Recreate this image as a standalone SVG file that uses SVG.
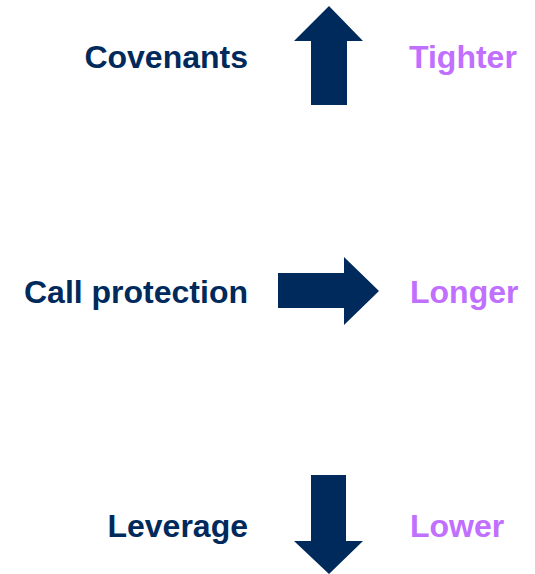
<svg xmlns="http://www.w3.org/2000/svg" width="535" height="574" viewBox="0 0 535 574">
<style>
.l{font-family:"Liberation Sans",Arial,sans-serif;font-weight:bold;font-size:32px;fill:#002A5C;text-anchor:end}
.r{font-family:"Liberation Sans",Arial,sans-serif;font-weight:bold;font-size:32px;fill:#C06FFF}
.a{fill:#002A5C}
</style>
<rect width="535" height="574" fill="#ffffff"/>
<g id="covenants"><text class="l" x="248" y="68">Covenants</text></g>
<g id="tighter"><text class="r" x="409" y="68">Tighter</text></g>
<g id="call-protection"><text class="l" x="248" y="303">Call protection</text></g>
<g id="longer"><text class="r" x="410" y="303">Longer</text></g>
<g id="leverage"><text class="l" x="248" y="537">Leverage</text></g>
<g id="lower"><text class="r" x="410" y="537">Lower</text></g>
<g id="connectors">
<polygon class="a" points="329,6 363,41 347,41 347,105 311,105 311,41 294,41"/>
<polygon class="a" points="379,291 344,257 344,273 278,273 278,308 344,308 344,325"/>
<polygon class="a" points="329,574 363,541 346,541 346,475 311,475 311,541 294,541"/>
</g>
</svg>
